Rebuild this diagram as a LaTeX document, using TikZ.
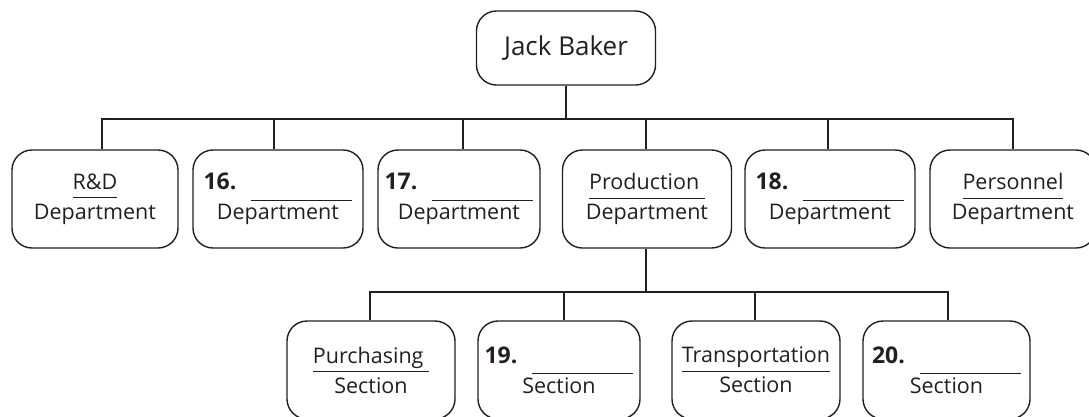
\documentclass[tikz,border=0pt]{standalone}
\usepackage{fontspec}
\setmainfont{Open Sans}
\definecolor{ink}{HTML}{231F20}
\newcommand\myul[1]{\setbox0\hbox{#1}\rlap{\rule[-9pt]{\wd0}{1pt}}\box0}
\newcommand\myblank[1]{{\fontsize{23}{30}\selectfont\bfseries #1}\hspace{15pt}\rule[-11pt]{101pt}{1pt}}
\tikzset{
  box/.style={draw=ink, text=ink, line width=1.4pt, rounded corners=20pt,
    minimum width=166pt, minimum height=98pt, align=center, inner sep=0pt,
    font=\fontsize{21.5}{30}\selectfont},
  bossbox/.style={box, minimum width=179pt, minimum height=74pt,
    font=\fontsize{26}{30}\selectfont},
  link/.style={draw=ink, line width=1.3pt}
}
\begin{document}
\begin{tikzpicture}[x=1pt,y=-1pt]
\useasboundingbox (0,0) rectangle (1089,416);
\clip (0,0) rectangle (1089,416);

\node[bossbox] (boss) at (566,48) {Jack Baker};

\node[box] (rd)   at (95,199)   {\myul{R\&D}\\Department};
\node[box, minimum width=170pt] (d16) at (278,199) {\myblank{16.}\\Department};
\node[box, minimum width=162pt] (d17) at (459,199) {\myblank{17.}\\Department};
\node[box, minimum width=169pt] (prod) at (647,199) {\myul{Production\ }\\Department};
\node[box, minimum width=170pt] (d18) at (830,199) {\myblank{18.}\\Department};
\node[box] (pers) at (1013,199) {\myul{Personnel}\\Department};

\node[box, minimum width=168pt] (purch) at (371,370) {\myul{Purchasing\ }\\Section};
\node[box, minimum width=162pt] (s19)   at (559,370) {\myblank{19.}\\Section};
\node[box, minimum width=168pt] (trans) at (756,370) {\myul{Transportation}\\Section};
\node[box, minimum width=167pt] (s20)   at (946.5,370) {\myblank{20.}\\Section};

\coordinate (bus1) at (566,119);
\coordinate (bus2) at (646,292);

\draw[link] (boss.south) -- (bus1);
\draw[link] ([xshift=7pt]rd.north) -- ([xshift=7pt]rd.north |- bus1) -- (pers.north |- bus1) -- (pers.north);
\draw[link] ([xshift=-4pt]d16.north) -- ([xshift=-4pt]d16.north |- bus1);
\draw[link] ([xshift=4pt]d17.north) -- ([xshift=4pt]d17.north |- bus1);
\draw[link] ([xshift=-1pt]prod.north) -- ([xshift=-1pt]prod.north |- bus1);
\draw[link] ([xshift=-2pt]d18.north) -- ([xshift=-2pt]d18.north |- bus1);

\draw[link] ([xshift=-1pt]prod.south) -- (bus2);
\draw[link] ([xshift=-1pt]purch.north) -- ([xshift=-1pt]purch.north |- bus2) -- ([xshift=1.5pt]s20.north |- bus2) -- ([xshift=1.5pt]s20.north);
\draw[link] ([xshift=5pt]s19.north) -- ([xshift=5pt]s19.north |- bus2);
\draw[link] ([xshift=-1pt]trans.north) -- ([xshift=-1pt]trans.north |- bus2);
\end{tikzpicture}
\end{document}
